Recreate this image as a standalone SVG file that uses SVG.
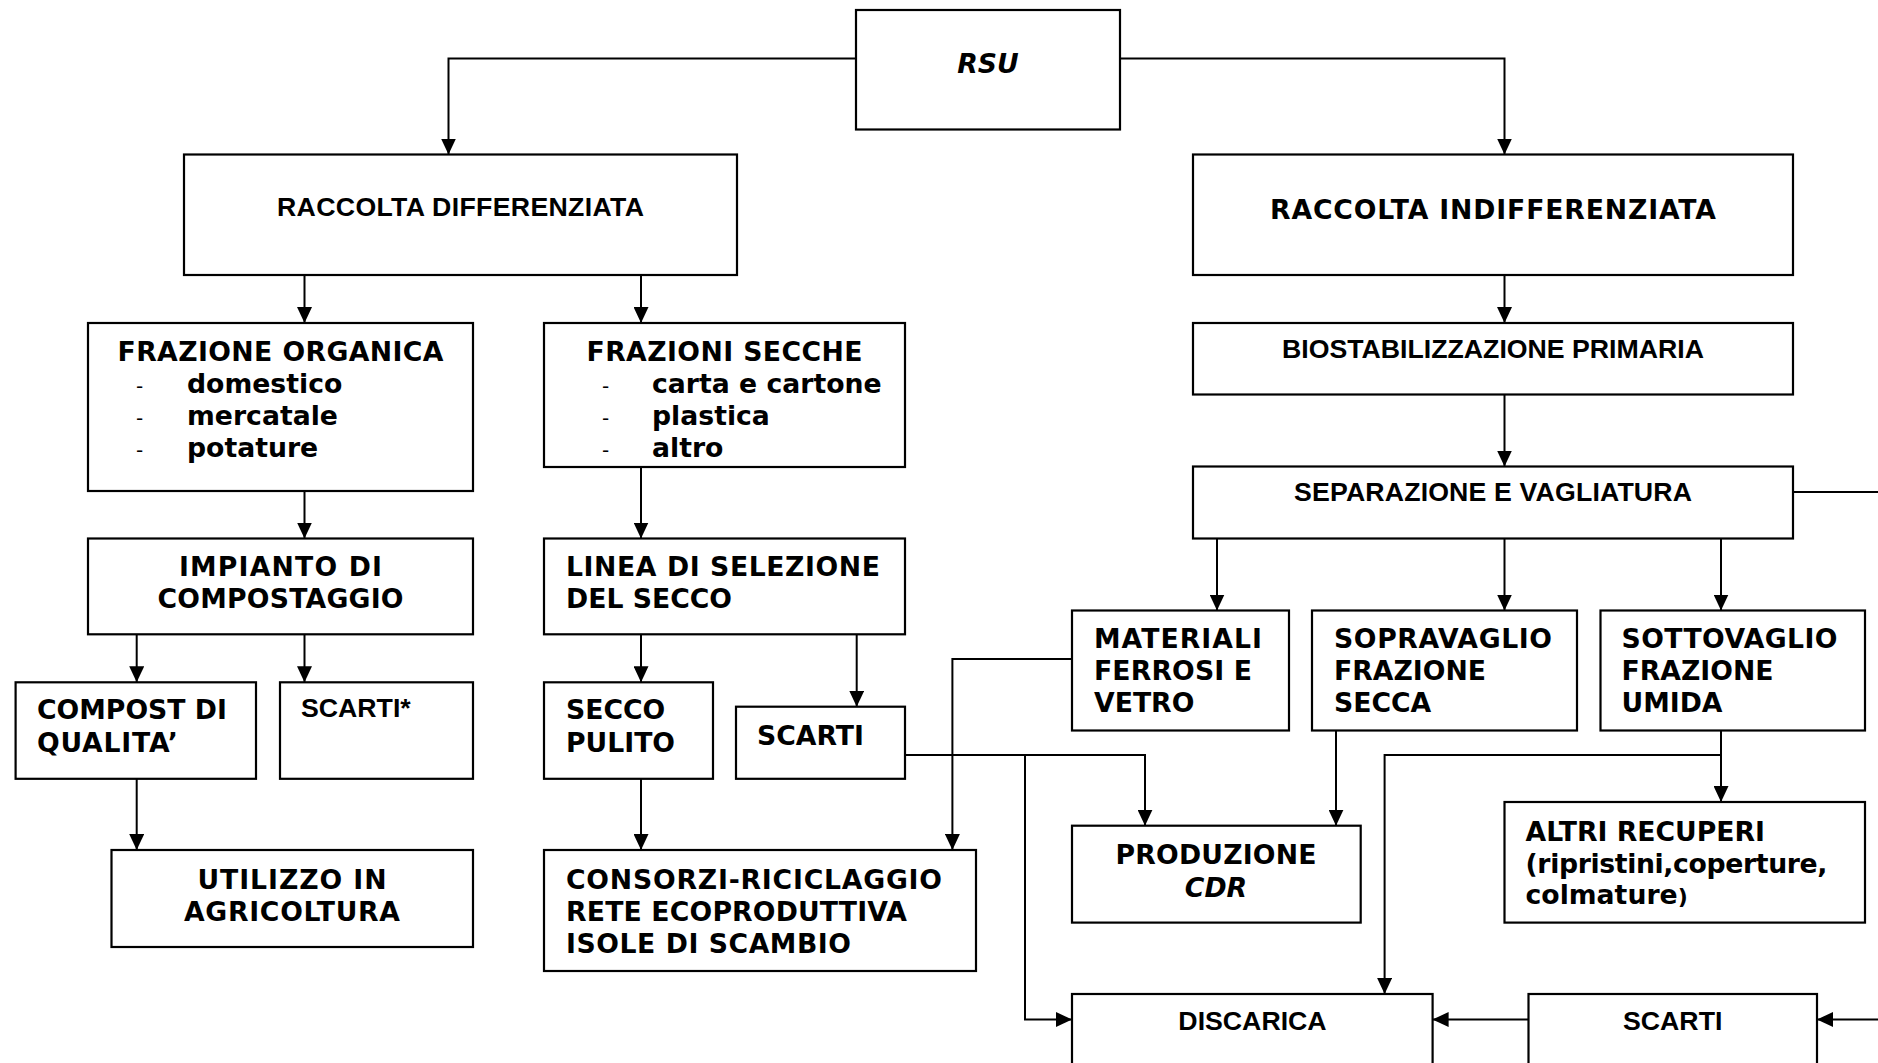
<svg xmlns="http://www.w3.org/2000/svg" width="1878" height="1063" viewBox="0 0 1878 1063">
<style>
  .box { fill: #fff; stroke: #000; stroke-width: 2.2; }
  .ln { fill: none; stroke: #000; stroke-width: 2; }
  .arr { marker-end: url(#ah); }
  .v { font-family: "DejaVu Sans", Verdana, sans-serif; font-weight: bold; font-size: 26.7px; fill: #000; }
  .vi { font-family: "DejaVu Sans", Verdana, sans-serif; font-weight: bold; font-style: italic; font-size: 26.7px; fill: #000; }
  .a { font-family: "Liberation Sans", Arial, sans-serif; font-weight: bold; font-size: 26.7px; fill: #000; }
  .d { font-family: "DejaVu Sans", Verdana, sans-serif; font-size: 20px; fill: #000; }
  .m { text-anchor: middle; }
</style>
<defs>
  <marker id="ah" viewBox="0 0 16 15" refX="16" refY="7.5" markerWidth="16" markerHeight="15" markerUnits="userSpaceOnUse" orient="auto">
    <path d="M0,0 L16,7.5 L0,15 z" fill="#000"/>
  </marker>
</defs>
<rect width="1878" height="1063" fill="#fff"/>

<g id="connectors">
  <path class="ln arr" d="M856,58.5 H448.5 V154.5"/>
  <path class="ln arr" d="M1120,58.5 H1504.5 V154.5"/>
  <path class="ln arr" d="M304.5,275 V323"/>
  <path class="ln arr" d="M641,275 V323"/>
  <path class="ln arr" d="M1504.5,275 V323"/>
  <path class="ln arr" d="M304.5,491 V538.5"/>
  <path class="ln arr" d="M641,467 V538.5"/>
  <path class="ln arr" d="M1504.5,394.5 V466.5"/>
  <path class="ln" d="M1793,492 H1878"/>
  <path class="ln arr" d="M1217,538.5 V610.5"/>
  <path class="ln arr" d="M1504.5,538.5 V610.5"/>
  <path class="ln arr" d="M1721,538.5 V610.5"/>
  <path class="ln arr" d="M136.7,634.3 V682.3"/>
  <path class="ln arr" d="M304.5,634.3 V682.3"/>
  <path class="ln arr" d="M641,634.3 V682.3"/>
  <path class="ln arr" d="M856.7,634.3 V706.7"/>
  <path class="ln arr" d="M136.7,778.8 V850"/>
  <path class="ln arr" d="M641,778.8 V850"/>
  <path class="ln arr" d="M1072,659 H952.4 V850"/>
  <path class="ln arr" d="M905,755 H1145 V825.7"/>
  <path class="ln arr" d="M1025,755 V1019.5 H1072"/>
  <path class="ln arr" d="M1336,730.5 V825.7"/>
  <path class="ln arr" d="M1721,730.5 V802"/>
  <path class="ln arr" d="M1721,755 H1384.6 V994"/>
  <path class="ln arr" d="M1528.5,1019.5 H1432.6"/>
  <path class="ln arr" d="M1878,1019.5 H1817"/>
</g>

<g id="rsu">
  <rect class="box" x="856" y="10" width="264" height="119.5"/>
  <text class="vi m" x="988" y="73">RSU</text>
</g>
<g id="raccolta-differenziata">
  <rect class="box" x="184" y="154.5" width="553" height="120.5"/>
  <text class="a m" x="460.5" y="216" textLength="367" lengthAdjust="spacing">RACCOLTA DIFFERENZIATA</text>
</g>
<g id="raccolta-indifferenziata">
  <rect class="box" x="1193" y="154.5" width="600" height="120.5"/>
  <text class="v m" x="1493" y="219" textLength="446" lengthAdjust="spacing">RACCOLTA INDIFFERENZIATA</text>
</g>
<g id="frazione-organica">
  <rect class="box" x="88" y="323" width="385" height="168"/>
  <text class="v m" x="280.5" y="361" textLength="326" lengthAdjust="spacing">FRAZIONE ORGANICA</text>
  <text class="d" x="136" y="393">-</text>
  <text class="d" x="136" y="425">-</text>
  <text class="d" x="136" y="457">-</text>
  <text class="v" x="187" y="393">domestico</text>
  <text class="v" x="187" y="425">mercatale</text>
  <text class="v" x="187" y="457">potature</text>
</g>
<g id="frazioni-secche">
  <rect class="box" x="544" y="323" width="361" height="144"/>
  <text class="v m" x="724.5" y="361" textLength="276" lengthAdjust="spacing">FRAZIONI SECCHE</text>
  <text class="d" x="602" y="393">-</text>
  <text class="d" x="602" y="425">-</text>
  <text class="d" x="602" y="457">-</text>
  <text class="v" x="652" y="393">carta e cartone</text>
  <text class="v" x="652" y="425">plastica</text>
  <text class="v" x="652" y="457">altro</text>
</g>
<g id="biostabilizzazione">
  <rect class="box" x="1193" y="323" width="600" height="71.5"/>
  <text class="a m" x="1493" y="358">BIOSTABILIZZAZIONE PRIMARIA</text>
</g>
<g id="separazione">
  <rect class="box" x="1193" y="466.5" width="600" height="72"/>
  <text class="a m" x="1493" y="501" textLength="398" lengthAdjust="spacing">SEPARAZIONE E VAGLIATURA</text>
</g>
<g id="impianto">
  <rect class="box" x="88" y="538.5" width="385" height="95.8"/>
  <text class="v m" x="280.5" y="576" textLength="203" lengthAdjust="spacing">IMPIANTO DI</text>
  <text class="v m" x="280.5" y="608" textLength="246" lengthAdjust="spacing">COMPOSTAGGIO</text>
</g>
<g id="linea-selezione">
  <rect class="box" x="544" y="538.5" width="361" height="95.8"/>
  <text class="v" x="566" y="576" textLength="314" lengthAdjust="spacing">LINEA DI SELEZIONE</text>
  <text class="v" x="566" y="608">DEL SECCO</text>
</g>
<g id="materiali">
  <rect class="box" x="1072" y="610.5" width="217" height="120"/>
  <text class="v" x="1094" y="648" textLength="168" lengthAdjust="spacing">MATERIALI</text>
  <text class="v" x="1094" y="680" textLength="158" lengthAdjust="spacing">FERROSI E</text>
  <text class="v" x="1094" y="712">VETRO</text>
</g>
<g id="sopravaglio">
  <rect class="box" x="1312" y="610.5" width="265" height="120"/>
  <text class="v" x="1334" y="648" textLength="218" lengthAdjust="spacing">SOPRAVAGLIO</text>
  <text class="v" x="1334" y="680">FRAZIONE</text>
  <text class="v" x="1334" y="712">SECCA</text>
</g>
<g id="sottovaglio">
  <rect class="box" x="1600.5" y="610.5" width="264.5" height="120"/>
  <text class="v" x="1621.5" y="648" textLength="216" lengthAdjust="spacing">SOTTOVAGLIO</text>
  <text class="v" x="1621.5" y="680">FRAZIONE</text>
  <text class="v" x="1621.5" y="712">UMIDA</text>
</g>
<g id="compost">
  <rect class="box" x="15.6" y="682.3" width="240.4" height="96.5"/>
  <text class="v" x="37" y="719">COMPOST DI</text>
  <text class="v" x="37" y="752" textLength="141" lengthAdjust="spacing">QUALITA’</text>
</g>
<g id="scarti-compost">
  <rect class="box" x="280" y="682.3" width="193" height="96.5"/>
  <text class="a" x="301" y="717">SCARTI*</text>
</g>
<g id="secco-pulito">
  <rect class="box" x="544" y="682.3" width="169" height="96.5"/>
  <text class="v" x="566" y="719">SECCO</text>
  <text class="v" x="566" y="752">PULITO</text>
</g>
<g id="scarti-secco">
  <rect class="box" x="736" y="706.7" width="169" height="72.1"/>
  <text class="v" x="757" y="745">SCARTI</text>
</g>
<g id="utilizzo">
  <rect class="box" x="111.5" y="850" width="361.5" height="97"/>
  <text class="v m" x="292" y="889" textLength="189" lengthAdjust="spacing">UTILIZZO IN</text>
  <text class="v m" x="292" y="921" textLength="216" lengthAdjust="spacing">AGRICOLTURA</text>
</g>
<g id="consorzi">
  <rect class="box" x="544" y="850" width="432" height="121"/>
  <text class="v" x="566" y="889" textLength="376" lengthAdjust="spacing">CONSORZI-RICICLAGGIO</text>
  <text class="v" x="566" y="921" textLength="341" lengthAdjust="spacing">RETE ECOPRODUTTIVA</text>
  <text class="v" x="566" y="953" textLength="285" lengthAdjust="spacing">ISOLE DI SCAMBIO</text>
</g>
<g id="produzione-cdr">
  <rect class="box" x="1072" y="825.7" width="288.7" height="96.9"/>
  <text class="v m" x="1216" y="864" textLength="201" lengthAdjust="spacing">PRODUZIONE</text>
  <text class="vi m" x="1216" y="897">CDR</text>
</g>
<g id="altri-recuperi">
  <rect class="box" x="1504.5" y="802" width="360.5" height="120.6"/>
  <text class="v" x="1525.5" y="841">ALTRI RECUPERI</text>
  <text class="v" x="1525.5" y="873" textLength="302" lengthAdjust="spacing">(ripristini,coperture,</text>
  <text class="v" x="1525.5" y="904">colmature<tspan font-size="22px">)</tspan></text>
</g>
<g id="discarica">
  <rect class="box" x="1072" y="994" width="360.6" height="80"/>
  <text class="a m" x="1252.5" y="1030">DISCARICA</text>
</g>
<g id="scarti-finali">
  <rect class="box" x="1528.5" y="994" width="288.5" height="80"/>
  <text class="a m" x="1672.7" y="1030">SCARTI</text>
</g>
</svg>
